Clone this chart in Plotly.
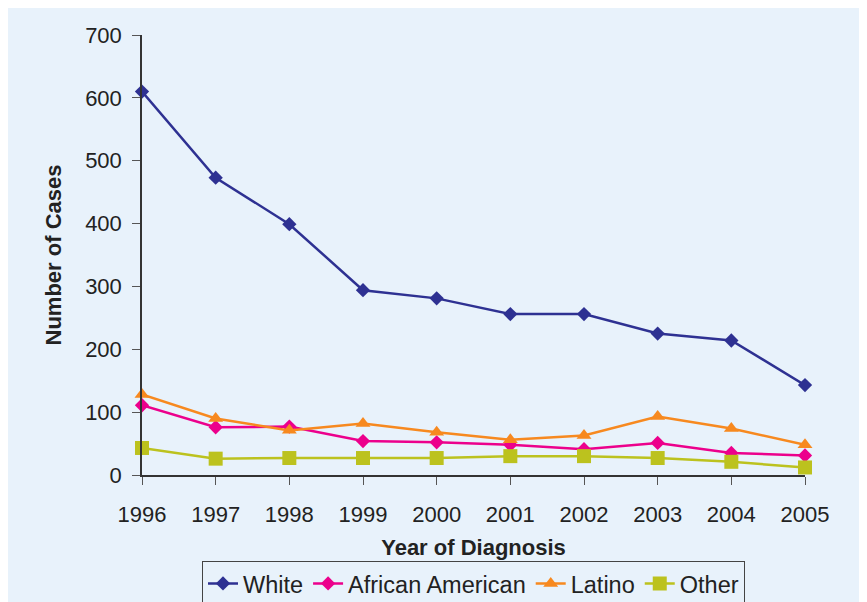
import plotly.graph_objects as go

years = [1996, 1997, 1998, 1999, 2000, 2001, 2002, 2003, 2004, 2005]
white = [610, 473, 399, 294, 281, 256, 256, 225, 214, 143]
african_american = [111, 76, 77, 54, 52, 48, 41, 51, 35, 31]
latino = [128, 90, 71, 82, 68, 56, 63, 93, 74, 48]
other = [43, 26, 27, 27, 27, 30, 30, 27, 21, 12]
y_ticks = [0, 100, 200, 300, 400, 500, 600, 700]

series = [
    ("White", white, "#2E3192", "diamond", 11),
    ("African American", african_american, "#EC008C", "diamond", 11),
    ("Latino", latino, "#F7891F", "triangle-up", 13),
    ("Other", other, "#BCC21E", "square", 14),
]

fig = go.Figure()
for name, vals, color, sym, size in series:
    fig.add_trace(go.Scatter(
        x=years, y=vals, name=name, mode="lines+markers",
        line=dict(color=color, width=2.5),
        marker=dict(symbol=sym, size=size, color=color),
        cliponaxis=False,
    ))

bg = "#E8F2FB"
fig.update_layout(
    width=867, height=602,
    margin=dict(l=134, r=70, t=27, b=135, autoexpand=False),
    paper_bgcolor=bg,
    plot_bgcolor=bg,
    font=dict(family="Liberation Sans, Arial, sans-serif", size=22, color="#222222"),
    showlegend=True,
    legend=dict(
        orientation="h", x=0.5, xanchor="center",
        yref="container", y=0.082, yanchor="top",
        bordercolor="#444444", borderwidth=1, bgcolor=bg,
        font=dict(size=23.5), itemwidth=30,
    ),
)
fig.update_xaxes(
    range=[1996, 2005], tickmode="array", tickvals=years,
    ticktext=[str(y) for y in years],
    showline=True, linecolor="#333333", linewidth=1.5,
    ticks="outside", ticklen=8, tickcolor="#555555",
    ticklabelstandoff=11, automargin=False,
    showgrid=False, zeroline=False,
    title=dict(text="<b>Year of Diagnosis</b>", font=dict(size=22), standoff=13),
)
fig.update_yaxes(
    range=[0, 700], tickmode="array", tickvals=y_ticks,
    showline=True, linecolor="#333333", linewidth=1.5,
    ticks="outside", ticklen=8, tickcolor="#555555",
    ticklabelstandoff=6, automargin=False,
    showgrid=False, zeroline=False,
    title=dict(text="<b>Number of Cases</b>", font=dict(size=22), standoff=17),
)

fig.write_html("out.html")
